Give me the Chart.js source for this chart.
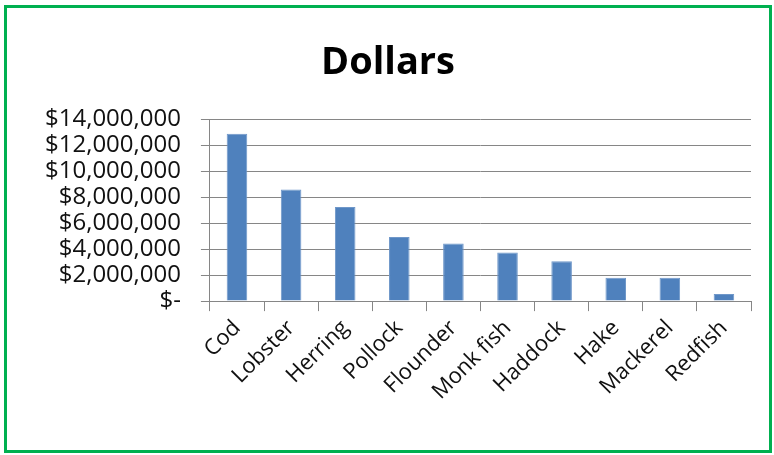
<!DOCTYPE html>
<html>
<head>
<meta charset="utf-8">
<script src="https://cdn.jsdelivr.net/npm/chart.js@4/dist/chart.umd.min.js"></script>
<style>
  html, body { margin: 0; padding: 0; background: #fff; }
  #wrap { position: relative; width: 774px; height: 455px; }
  #frame { position: absolute; left: 4px; top: 5px; width: 762px; height: 442px;
           border: 3px solid #00B050; pointer-events: none; }
</style>
</head>
<body>
<div id="wrap">
  <canvas id="one"></canvas>
  <div id="frame"></div>
</div>
<script>
// fish species and landed value
const species = ['Cod', 'Lobster', 'Herring', 'Pollock', 'Flounder', 'Monk fish', 'Haddock', 'Hake', 'Mackerel', 'Redfish'];
const dollars = [12900000, 8600000, 7250000, 4950000, 4450000, 3750000, 3080000, 1800000, 1800000, 540000];
const yTicks = [0, 2000000, 4000000, 6000000, 8000000, 10000000, 12000000, 14000000];

const ctx = document.getElementById('one');

function money(v) {
  if (v === 0) return '$-';
  return '$' + v.toLocaleString('en-US');
}

new Chart(ctx, {
  type: 'bar',
  data: {
    labels: species,
    datasets: [{
      label: 'Dollars',
      data: dollars,
      backgroundColor: '#4F81BD',
      borderColor: '#6F97C9',
      borderWidth: 1,
      categoryPercentage: 1,
      barPercentage: 0.38
    }]
  },
  options: {
    responsive: true,
    maintainAspectRatio: false,
    animation: false,
    layout: { padding: { left: 25, right: 23, top: 0, bottom: 46 } },
    plugins: {
      legend: { display: false },
      tooltip: { enabled: false },
      title: {
        display: true,
        text: 'Dollars',
        color: '#000',
        font: { family: 'Open Sans', size: 38, weight: 'bold' },
        padding: { top: 40, bottom: 34 }
      }
    },
    scales: {
      x: {
        grid: { display: true, drawOnChartArea: false, color: '#868686', tickLength: 10, offset: true },
        border: { color: '#868686' },
        ticks: {
          color: '#111',
          font: { family: 'Open Sans', size: 22 },
          minRotation: 45,
          maxRotation: 45,
          padding: 4
        }
      },
      y: {
        min: 0,
        max: 14000000,
        afterBuildTicks: function(axis) {
          axis.ticks = yTicks.map(function(v) { return { value: v }; });
        },
        grid: { color: '#868686', tickLength: 9 },
        border: { color: '#868686' },
        ticks: {
          color: '#111',
          autoSkip: false,
          font: { family: 'Open Sans', size: 24, lineHeight: 1 },
          padding: 20,
          callback: function(v) { return money(v); }
        }
      }
    }
  }
});
</script>
</body>
</html>
